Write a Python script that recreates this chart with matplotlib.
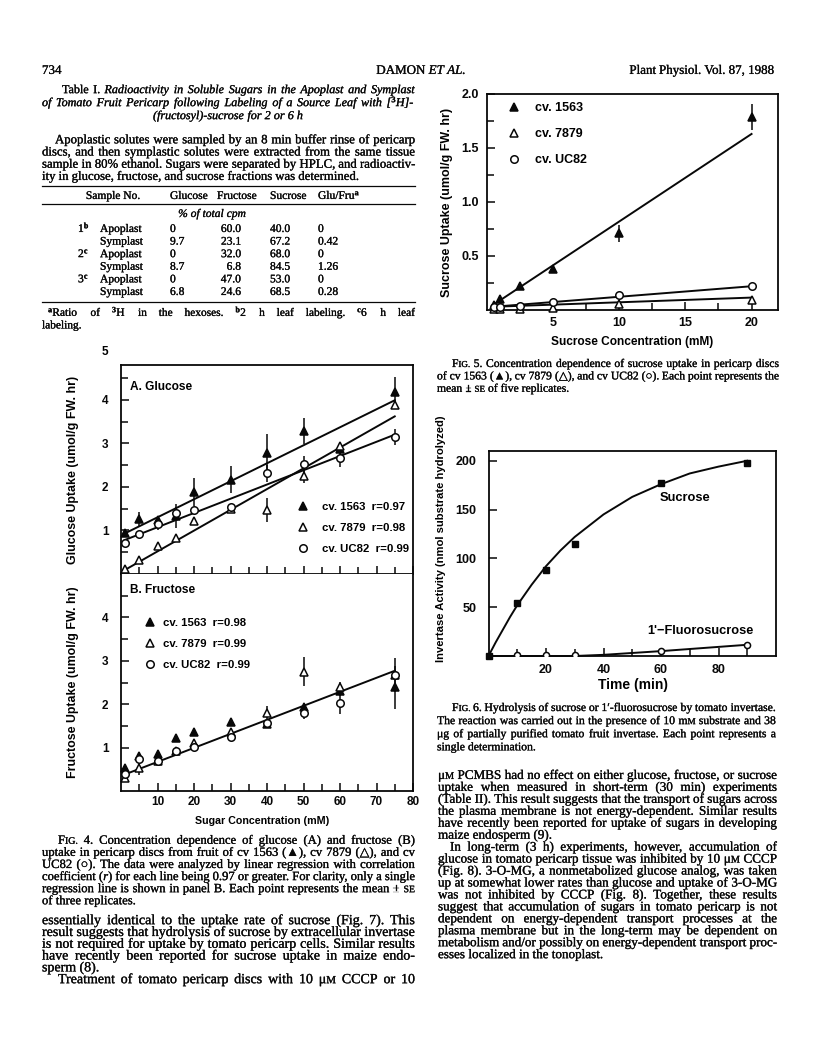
import re
import matplotlib
matplotlib.use('Agg')
import matplotlib.pyplot as plt
import matplotlib.patheffects as pe
from matplotlib.lines import Line2D
from matplotlib.transforms import IdentityTransform

# ---------------- data read from the page ----------------
# Fig. 4 (sugar concentration, mM)
conc = [1, 5, 10, 15, 20, 30, 40, 50, 60, 75]
glc_1563 = [0.95, 1.26, 1.24, 1.33, 1.89, 2.17, 2.79, 3.29, 2.86, 4.17]
glc_1563_se = [0.05, 0.17, 0.10, 0.27, 0.32, 0.30, 0.42, 0.30, 0.10, 0.35]
glc_7879 = [0.11, 0.33, 0.64, 0.82, 1.21, 1.50, 1.47, 2.25, 2.93, 3.87]
glc_7879_se = [0.03, 0.03, 0.05, 0.05, 0.05, 0.08, 0.27, 0.17, 0.10, 0.05]
glc_uc82 = [0.72, 0.91, 1.15, 1.39, 1.46, 1.53, 2.31, 2.52, 2.67, 3.15]
glc_uc82_se = [0.05, 0.05, 0.15, 0.15, 0.08, 0.05, 0.20, 0.20, 0.22, 0.18]
glc_fit_x = [1, 75]
glc_fit_1563 = [0.93, 3.99]
glc_fit_7879 = [0.09, 3.62]
glc_fit_uc82 = [0.78, 3.20]

fru_1563 = [0.53, 0.80, 0.86, 1.23, 1.35, 1.60, 1.55, 1.93, 2.30, 2.39]
fru_1563_se = [0.03, 0.08, 0.05, 0.05, 0.05, 0.05, 0.05, 0.08, 0.10, 0.50]
fru_7879 = [0.30, 0.53, 0.70, 0.93, 1.10, 1.35, 1.79, 2.75, 2.39, 2.67]
fru_7879_se = [0.05, 0.15, 0.05, 0.05, 0.05, 0.05, 0.18, 0.33, 0.12, 0.40]
fru_uc82 = [0.39, 0.74, 0.68, 0.92, 1.02, 1.25, 1.57, 1.80, 2.03, 2.67]
fru_uc82_se = [0.05, 0.05, 0.05, 0.05, 0.05, 0.05, 0.05, 0.15, 0.25, 0.10]
fru_fit_x = [1, 75]
fru_fit = [0.38, 2.77]

# Fig. 5 (sucrose concentration, mM)
suc_conc = [0.5, 1, 2.5, 5, 10, 20]
suc_1563 = [0.05, 0.10, 0.22, 0.38, 0.71, 1.79]
suc_1563_se = [0.01, 0.01, 0.02, 0.03, 0.08, 0.12]
suc_7879 = [0.01, 0.01, 0.01, 0.02, 0.055, 0.09]
suc_uc82 = [0.03, 0.03, 0.04, 0.07, 0.14, 0.22]
suc_fit_x = [0.5, 20]
suc_fit_1563 = [0.05, 1.63]
suc_fit_7879 = [0.03, 0.115]
suc_fit_uc82 = [0.03, 0.22]

# Fig. 6 (time, min)
inv_time = [0, 10, 20, 30, 60, 90]
inv_sucrose = [0, 54, 88, 115, 177, 198]
inv_curve_t = [0, 2.5, 5, 7.5, 10, 15, 20, 25, 30, 40, 50, 60, 70, 80, 90]
inv_curve_v = [0, 14, 27, 40, 52, 73, 92, 108, 122, 145, 163, 176, 187, 194, 200]
fl_time = [10, 20, 30, 60, 90]
fl_act = [1.5, 1.5, 1.5, 5, 11.5]
fl_line_t = [0, 30, 40, 60, 90]
fl_line_v = [0, 0, 1.2, 5, 11.5]

# Table I
tab_sample = ['1$^{b}$', '', '2$^{c}$', '', '3$^{c}$', '']
tab_site = ['Apoplast', 'Symplast', 'Apoplast', 'Symplast', 'Apoplast', 'Symplast']
tab_glucose = ['0', '9.7', '0', '8.7', '0', '6.8']
tab_fructose = ['60.0', '23.1', '32.0', '6.8', '47.0', '24.6']
tab_sucrose = ['40.0', '67.2', '68.0', '84.5', '53.0', '68.5']
tab_glufru = ['0', '0.42', '0', '1.26', '0', '0.28']

# ---------------- page setup ----------------
W, H = 816, 1057
PX = 100 / 72
plt.rcParams['mathtext.fontset'] = 'custom'
plt.rcParams['mathtext.rm'] = 'Liberation Serif'
plt.rcParams['mathtext.it'] = 'Liberation Serif:italic'
plt.rcParams['mathtext.default'] = 'rm'
SANS = 'Liberation Sans'
plt.rcParams['font.family'] = SANS
plt.rcParams['font.weight'] = 'bold'
plt.rcParams['axes.labelweight'] = 'bold'
plt.rcParams['axes.linewidth'] = 1.3
SERIF = ['Liberation Serif', 'DejaVu Sans']
INK = '#080808'
THICK = [pe.withStroke(linewidth=0.2, foreground=INK)]

fig = plt.figure(figsize=(W / 100, H / 100), dpi=100)
fig.patch.set_facecolor('white')
rend = fig.canvas.get_renderer()
ident = IdentityTransform()


def parse(s):
    """Split a line into words of runs; '_' toggles italic, '~' toggles small caps."""
    it = sm = False
    words = []
    for w in s.split(' '):
        runs = []
        for p in re.split(r'([_~])', w):
            if p == '_':
                it = not it
            elif p == '~':
                sm = not sm
            elif p:
                runs.append((p, it, sm))
        if runs:
            words.append(runs)
    return words


def make_runs(words, size):
    out = []
    for runs in words:
        objs = []
        for p, it, sm in runs:
            t = fig.text(0, 0, p, transform=ident, family=SERIF, weight='normal',
                         fontsize=size * (0.78 if sm else 1.0),
                         style='italic' if it else 'normal',
                         ha='left', va='baseline', color=INK, path_effects=THICK)
            objs.append((t, t.get_window_extent(rend).width))
        out.append(objs)
    return out


def natural(s, size=10):
    objs = make_runs(parse(s), size)
    w = sum(tw for ws in objs for _, tw in ws) + 0.25 * size * PX * (len(objs) - 1)
    for ws in objs:
        for t, _ in ws:
            t.remove()
    return w


def text_line(x0, y, s, size, x1=None, align='left'):
    objs = make_runs(parse(s), size)
    widths = [sum(tw for _, tw in ws) for ws in objs]
    gap = 0.25 * size * PX
    if align == 'justify' and x1 is not None and len(objs) > 1:
        gap = max((x1 - x0 - sum(widths)) / (len(objs) - 1), 1.0)
    total = sum(widths) + gap * (len(objs) - 1)
    x = {'center': x0 - total / 2, 'right': x0 - total}.get(align, x0)
    for ws, wd in zip(objs, widths):
        for t, tw in ws:
            t.set_position((x, H - y - 0.3 * size * PX))
            x += tw
        x += gap


def paragraph(lines, x0, x1, y0, step, first_indent=0, size=None, last_free=True, cap=None):
    starts = [x0 + (first_indent if i == 0 else 0) for i in range(len(lines))]
    if size is None:
        just = lines[:-1] if (last_free and len(lines) > 1) else lines
        size = min(10 * (x1 - starts[i]) / natural(ln) for i, ln in enumerate(just))
        if cap:
            size = min(size, cap)
    for i, ln in enumerate(lines):
        free = last_free and i == len(lines) - 1
        text_line(starts[i], y0 + i * step, ln, size, x1, 'left' if free else 'justify')
    return size


def hrule(x0, x1, y, lw=0.9):
    fig.add_artist(Line2D([x0 / W, x1 / W], [1 - y / H, 1 - y / H], color=INK, lw=lw))


def axes_px(l, t, r, b):
    return fig.add_axes([l / W, 1 - b / H, (r - l) / W, (b - t) / H])


def style(ax, fs, ypad, xpad):
    ax.tick_params(which='both', direction='in', top=False, right=False,
                   width=1.1, colors=INK, labelsize=fs)
    ax.tick_params(which='major', length=6)
    ax.tick_params(which='minor', length=5)
    ax.tick_params(axis='y', pad=ypad)
    ax.tick_params(axis='x', pad=xpad)
    for sp in ax.spines.values():
        sp.set_color(INK)


L0, L1 = 42, 415
R0, R1 = 438, 777

# ---------------- running head ----------------
hsize = 10 * 145 / natural('Plant Physiol. Vol. 87, 1988')
text_line(L0, 70, '734', hsize)
text_line(421, 70, 'DAMON _ET AL._', hsize, align='center')
text_line(774, 70, 'Plant Physiol. Vol. 87, 1988', hsize, align='right')

# ---------------- Table I ----------------
tsize = paragraph(['Table I.  _Radioactivity in Soluble Sugars in the Apoplast and Symplast_',
                   '_of Tomato Fruit Pericarp following Labeling of a Source Leaf with [$^{3}$H]-_'],
                  L0, L1, 89.5, 13, first_indent=20, last_free=False, cap=8.7)
text_line(228, 115.5, '_(fructosyl)-sucrose for 2 or 6 h_', tsize, align='center')
paragraph(['Apoplastic solutes were sampled by an 8 min buffer rinse of pericarp',
           'discs, and then symplastic solutes were extracted from the same tissue',
           'sample in 80% ethanol. Sugars were separated by HPLC, and radioactiv-',
           'ity in glucose, fructose, and sucrose fractions was determined.'],
          L0, L1, 139.5, 12.2, first_indent=13)
TS = 8.3
hrule(L0, L1, 186)
text_line(113, 195.5, 'Sample No.', TS, align='center')
text_line(170, 195.5, 'Glucose', TS)
text_line(217, 195.5, 'Fructose', TS)
text_line(270, 195.5, 'Sucrose', TS)
text_line(318, 195.5, 'Glu/Fru$^{a}$', TS)
hrule(L0, L1, 203.5)
text_line(212, 213.5, '_% of total cpm_', TS, align='center')
for i in range(len(tab_site)):
    yy = 228.5 + i * 12.6
    if tab_sample[i]:
        text_line(78, yy, tab_sample[i], TS)
    text_line(100, yy, tab_site[i], TS)
    text_line(170, yy, tab_glucose[i], TS)
    text_line(241, yy, tab_fructose[i], TS, align='right')
    text_line(270, yy, tab_sucrose[i], TS)
    text_line(318, yy, tab_glufru[i], TS)
hrule(L0, L1, 301.5)
text_line(48, 312.5, '$^{a}$Ratio of $^{3}$H in the hexoses.     $^{b}$2 h leaf labeling.     $^{c}$6 h leaf',
          8.2, L1, 'justify')
text_line(L0, 325, 'labeling.', 8.2)

# ---------------- Fig. 4 ----------------
axA = axes_px(121, 365, 413, 574)
axB = axes_px(121, 574, 413, 791)
series = [('^', INK, 6.4), ('^', 'white', 6.4), ('o', 'white', 5.4)]
glc = [(glc_1563, glc_1563_se), (glc_7879, glc_7879_se), (glc_uc82, glc_uc82_se)]
fru = [(fru_1563, fru_1563_se), (fru_7879, fru_7879_se), (fru_uc82, fru_uc82_se)]
for ax, data in ((axA, glc), (axB, fru)):
    for (mk, fc, ms), (yv, se) in zip(series, data):
        ax.errorbar(conc, yv, yerr=se, fmt=mk, ms=ms, mfc=fc, mec=INK, mew=1.1,
                    ecolor=INK, elinewidth=1.1, capsize=0, clip_on=False, zorder=3)
for yv in (glc_fit_1563, glc_fit_7879, glc_fit_uc82):
    axA.plot(glc_fit_x, yv, color=INK, lw=1.4, zorder=2)
axB.plot(fru_fit_x, fru_fit, color=INK, lw=1.4, zorder=2)

for ax in (axA, axB):
    ax.set_xlim(0, 80)
    ax.set_xticks(range(10, 81, 10))
    ax.set_xticks(range(5, 80, 10), minor=True)
    ax.set_yticks([1, 2, 3, 4])
    ax.set_yticks([0.5, 1.5, 2.5, 3.5, 4.5], minor=True)
    style(ax, 8.5, 9, 3.5)
axA.set_ylim(0, 4.8)
axB.set_ylim(0, 5)
axA.tick_params(axis='x', labelbottom=False)
axB.spines['top'].set_visible(False)
axA.text(-0.044, 1.062, '5', transform=axA.transAxes, ha='right', va='center', fontsize=8.5)
axA.text(0.03, 0.895, 'A. Glucose', transform=axA.transAxes, va='center', fontsize=8.6)
axB.text(0.03, 0.926, 'B. Fructose', transform=axB.transAxes, va='center', fontsize=8.6)
axA.set_ylabel('Glucose Uptake (umol/g FW. hr)', fontsize=8.9, va='center')
axA.yaxis.set_label_coords(-0.165, 0.5)
axB.set_ylabel('Fructose Uptake (umol/g FW. hr)', fontsize=8.9, va='center')
axB.yaxis.set_label_coords(-0.165, 0.5)
axB.set_xlabel('Sugar Concentration (mM)', fontsize=7.7, va='center')
axB.xaxis.set_label_coords(0.483, -0.138)

handles = [Line2D([], [], ls='none', marker=m, ms=s, mfc=c, mec=INK, mew=1.1)
           for m, c, s in series]
axA.legend(handles, ['cv. 1563  r=0.97', 'cv. 7879  r=0.98', 'cv. UC82  r=0.99'],
           loc='upper left', bbox_to_anchor=(0.604, 0.346), borderaxespad=0, borderpad=0,
           frameon=False, handlelength=1.0, handletextpad=1.15, labelspacing=1.0,
           prop={'size': 8.2, 'family': SANS, 'weight': 'bold'})
axB.legend(handles, ['cv. 1563  r=0.98', 'cv. 7879  r=0.99', 'cv. UC82  r=0.99'],
           loc='upper left', bbox_to_anchor=(0.080, 0.799), borderaxespad=0, borderpad=0,
           frameon=False, handlelength=1.0, handletextpad=0.65, labelspacing=1.0,
           prop={'size': 8.2, 'family': SANS, 'weight': 'bold'})

# ---------------- Fig. 5 ----------------
ax5 = axes_px(487, 94, 778, 310)
for (mk, fc, ms), yv, se in zip(series, (suc_1563, suc_7879, suc_uc82),
                                (suc_1563_se, None, None)):
    ax5.errorbar(suc_conc, yv, yerr=se, fmt=mk, ms=ms, mfc=fc, mec=INK, mew=1.1,
                 ecolor=INK, elinewidth=1.1, capsize=0, clip_on=False, zorder=3)
for yv in (suc_fit_1563, suc_fit_7879, suc_fit_uc82):
    ax5.plot(suc_fit_x, yv, color=INK, lw=1.4, zorder=2)
ax5.set_xlim(0, 22)
ax5.set_ylim(0, 2.0)
ax5.set_xticks([5, 10, 15, 20])
ax5.set_xticks([2.5, 7.5, 12.5, 17.5], minor=True)
ax5.set_yticks([0.5, 1.0, 1.5, 2.0])
ax5.set_yticklabels(['0.5', '1.0', '1.5', '2.0'])
ax5.set_yticks([0.25, 0.75, 1.25, 1.75], minor=True)
style(ax5, 9.0, 6, 4.8)
ax5.set_ylabel('Sucrose Uptake (umol/g FW. hr)', fontsize=9.0, va='center')
ax5.yaxis.set_label_coords(-0.136, 0.5)
ax5.set_xlabel('Sucrose Concentration (mM)', fontsize=8.6, va='center')
ax5.xaxis.set_label_coords(0.5, -0.147)
ax5.legend(handles, ['cv. 1563', 'cv. 7879', 'cv. UC82'],
           loc='upper left', bbox_to_anchor=(0.071, 0.961), borderaxespad=0, borderpad=0,
           frameon=False, handlelength=1.0, handletextpad=1.15, labelspacing=1.1,
           prop={'size': 9.0, 'family': SANS, 'weight': 'bold'})

paragraph(['F~IG.~ 5.  Concentration dependence of sucrose uptake in pericarp discs',
           'of cv 1563 (▲), cv 7879 (△), and cv UC82 (○). Each point represents the',
           'mean ± ~SE~ of five replicates.'],
          R0 - 1, 779, 363.5, 12.4, first_indent=15)

# ---------------- Fig. 6 ----------------
ax6 = axes_px(488.5, 451, 776, 656)
ax6.plot(inv_curve_t, inv_curve_v, color=INK, lw=1.4, zorder=2)
ax6.plot(inv_time, inv_sucrose, ls='none', marker='s', ms=4.4, color=INK,
         clip_on=False, zorder=3)
ax6.plot(fl_line_t, fl_line_v, color=INK, lw=1.4, zorder=2, clip_on=False)
ax6.plot(fl_time, fl_act, ls='none', marker='o', ms=4.4, mfc='white', mec=INK,
         mew=1.1, zorder=3)
ax6.set_xlim(0, 100)
ax6.set_ylim(0, 210)
ax6.set_xticks([20, 40, 60, 80])
ax6.set_xticks([10, 30, 50, 70, 90], minor=True)
ax6.set_yticks([50, 100, 150, 200])
style(ax6, 9.0, 8.5, 5.8)
ax6.text(68.4, 162, 'Sucrose', fontsize=9.3, ha='center', va='center')
ax6.text(73.6, 26, "1'\u2212Fluorosucrose", fontsize=9.2, ha='center', va='center')
ax6.set_ylabel('Invertase Activity (nmol substrate hydrolyzed)', fontsize=8.1, va='center')
ax6.yaxis.set_label_coords(-0.165, 0.571)
ax6.set_xlabel('Time (min)', fontsize=10, va='center')
ax6.xaxis.set_label_coords(0.504, -0.141)

paragraph(['F~IG.~ 6.  Hydrolysis of sucrose or 1\u2032-fluorosucrose by tomato invertase.',
           'The reaction was carried out in the presence of 10 m~M~ substrate and 38',
           '\u03bcg of partially purified tomato fruit invertase. Each point represents a',
           'single determination.'],
          R0 - 1, 776, 707.5, 13.1, first_indent=15)

# ---------------- Fig. 4 legend text and body ----------------
paragraph(['F~IG.~ 4.  Concentration dependence of glucose (A) and fructose (B)',
           'uptake in pericarp discs from fruit of cv 1563 (▲), cv 7879 (△), and cv',
           'UC82 (○). The data were analyzed by linear regression with correlation',
           'coefficient (_r_) for each line being 0.97 or greater. For clarity, only a single',
           'regression line is shown in panel B. Each point represents the mean ± ~SE~',
           'of three replicates.'],
          L0, L1, 840, 12.1, first_indent=16)

lsize = paragraph(['essentially identical to the uptake rate of sucrose (Fig. 7). This',
                   'result suggests that hydrolysis of sucrose by extracellular invertase',
                   'is not required for uptake by tomato pericarp cells. Similar results',
                   'have recently been reported for sucrose uptake in maize endo-',
                   'sperm (8).'],
                  L0, L1, 920, 11.8)
text_line(L0 + 16, 979, 'Treatment of tomato pericarp discs with 10 \u03bc~M~ CCCP or 10', lsize, L1, 'justify')

right_body = [
    '\u03bc~M~ PCMBS had no effect on either glucose, fructose, or sucrose',
    'uptake when measured in short-term (30 min) experiments',
    '(Table II). This result suggests that the transport of sugars across',
    'the plasma membrane is not energy-dependent. Similar results',
    'have recently been reported for uptake of sugars in developing',
    'maize endosperm (9).',
]
right_body2 = [
    'In long-term (3 h) experiments, however, accumulation of',
    'glucose in tomato pericarp tissue was inhibited by 10 \u03bc~M~ CCCP',
    '(Fig. 8). 3-O-MG, a nonmetabolized glucose analog, was taken',
    'up at somewhat lower rates than glucose and uptake of 3-O-MG',
    'was not inhibited by CCCP (Fig. 8). Together, these results',
    'suggest that accumulation of sugars in tomato pericarp is not',
    'dependent on energy-dependent transport processes at the',
    'plasma membrane but in the long-term may be dependent on',
    'metabolism and/or possibly on energy-dependent transport proc-',
    'esses localized in the tonoplast.',
]
rsize = paragraph(right_body2, R0, R1, 775 + 6 * 11.95, 11.95, first_indent=12)
paragraph(right_body, R0, R1, 775, 11.95, size=rsize)

fig.savefig('out.png', dpi=100, facecolor='white')
